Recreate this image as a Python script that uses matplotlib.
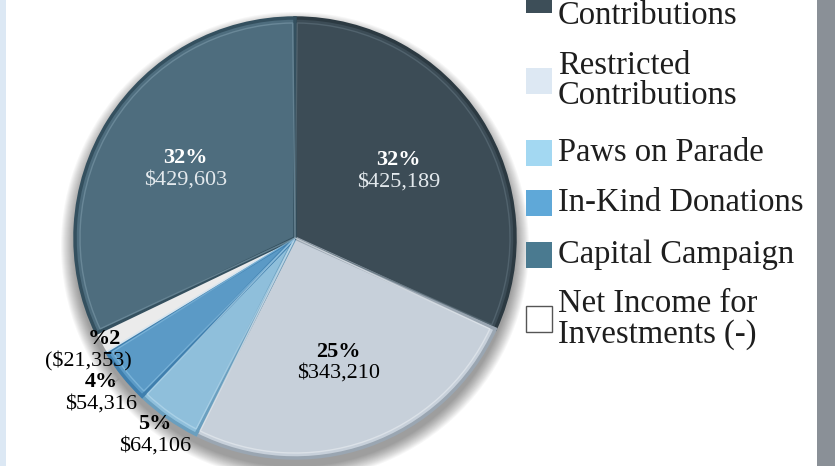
import numpy as np
import matplotlib.pyplot as plt
from matplotlib.patches import Rectangle, Circle, Wedge

# slices, clockwise from 12 o'clock
categories = ['Unrestricted\nContributions', 'Restricted\nContributions', 'Paws on Parade',
              'In-Kind Donations', 'Net Income for\nInvestments (-)', 'Capital Campaign']
amounts = [425189, 343210, 64106, 54316, 21353, 429603]
pct_labels = ['32%', '25%', '5%', '4%', '%2', '32%']
amount_labels = ['$425,189', '$343,210', '$64,106', '$54,316', '($21,353)', '$429,603']

slice_colors = ['#3c4c56', '#c7d0da', '#8fbfdb', '#5b9ac6', '#ffffff', '#4e6d7e']
edge_colors = ['#2c3a42', '#9aa6b2', '#6a9fbf', '#3f7fae', '#ffffff', '#34505f']
bevel_colors = ['#5a6c77', '#e4e9ee', '#b5d8ec', '#86bde0', '#ffffff', '#7593a3']
legend_colors = ['#3d4e58', '#dde8f3', '#a3d8f2', '#5fa8d8', '#4a7a90', '#ffffff']
legend_order = [0, 1, 2, 3, 5, 4]
label_dist = [0.56, 0.6, 1.1, 1.13, 1.07, 0.59]
label_text_col = ['white', 'black', 'black', 'black', 'black', 'white']
leader = [False, False, True, True, False, False]

W, H = 835, 466
serif = ['Liberation Serif', 'DejaVu Serif']

fig = plt.figure(figsize=(W / 100, H / 100), dpi=100)
fig.patch.set_facecolor('white')
ax = fig.add_axes([0, 0, 1, 1])

cx, cy, R = 295, 228, 220

# soft drop shadow behind the pie
for k in range(14):
    ax.add_patch(Circle((cx, cy - 8), R + 14 - k, facecolor='black',
                        edgecolor='none', alpha=0.03, zorder=0))

wedges, _ = ax.pie(amounts, colors=slice_colors, startangle=90, counterclock=False,
                   center=(cx, cy), radius=R,
                   wedgeprops=dict(linewidth=2.5))
for i, w in enumerate(wedges):
    w.set_edgecolor(edge_colors[i])
    w.set_zorder(2)
    if i == 4:
        w.set_alpha(0.8)
        w.set_edgecolor('none')
        continue
    # inner highlight line for a bevelled look
    ax.add_patch(Wedge(w.center, w.r - 5, w.theta1 + 0.6, w.theta2 - 0.6,
                       facecolor='none', edgecolor=bevel_colors[i],
                       linewidth=1.0, alpha=0.7, zorder=3))

ax.set_xlim(0, W)
ax.set_ylim(0, H)
ax.set_aspect('equal')
ax.axis('off')

for i, w in enumerate(wedges):
    mid = np.deg2rad((w.theta1 + w.theta2) / 2)
    r = label_dist[i] * w.r
    x = cx + r * np.cos(mid)
    y = cy + r * np.sin(mid)
    col = label_text_col[i]
    # the mirrored "%2" sits a little right of its amount
    px = x + 16 if i == 4 else x
    ax.text(px, y + 11, pct_labels[i], ha='center', va='center', fontsize=16,
            fontweight='bold', color=col, family=serif, zorder=5)
    ax.text(x, y - 11, amount_labels[i], ha='center', va='center', fontsize=16,
            color='#e3e9ed' if col == 'white' else col, family=serif, zorder=5)
    if leader[i]:
        r0, r1 = 1.025 * w.r, 1.05 * w.r
        ax.plot([cx + r0 * np.cos(mid), cx + r1 * np.cos(mid)],
                [cy + r0 * np.sin(mid), cy + r1 * np.sin(mid)],
                color='#999999', linewidth=0.8, zorder=5)

# page edges
ax.add_patch(Rectangle((0, 0), 6, H, facecolor='#dce8f4', edgecolor='none', zorder=6))
ax.add_patch(Rectangle((817, 0), W - 817, H, facecolor='#8a9097', edgecolor='none', zorder=6))

# legend (first entry runs off the top, as in the source)
legend_y = [0, 81, 153, 203, 255, 319]
for j, idx in enumerate(legend_order):
    yc = H - legend_y[j]
    ax.add_patch(Rectangle((526, yc - 13), 26, 26, facecolor=legend_colors[j],
                           edgecolor='#555555' if idx == 4 else 'none',
                           linewidth=1.0, zorder=6))
    ax.text(558, yc, categories[idx], ha='left', va='center', fontsize=23.5,
            linespacing=1.0, color='#1e1e1e', family=serif, zorder=6)

fig.savefig('out.png', dpi=100)
